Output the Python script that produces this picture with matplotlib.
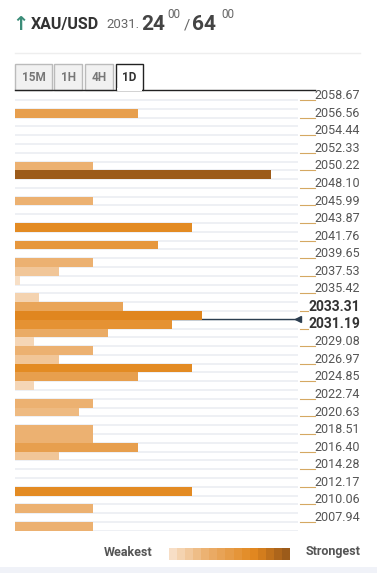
import numpy as np
import matplotlib.pyplot as plt
from matplotlib.colors import LinearSegmentedColormap
from matplotlib.patches import Rectangle

plt.rcParams['font.family'] = ['Roboto', 'DejaVu Sans']

# price labels on the right (one every two rows)
labels = [2058.67, 2056.56, 2054.44, 2052.33, 2050.22, 2048.10, 2045.99, 2043.87,
          2041.76, 2039.65, 2037.53, 2035.42, 2033.31, 2031.19, 2029.08, 2026.97,
          2024.85, 2022.74, 2020.63, 2018.51, 2016.40, 2014.28, 2012.17, 2010.06,
          2007.94]
n_rows = 50
current = 2031.24
bid, ask = "24", "64"

# confluence rows (row index from top) and strength
rows = [2, 8, 9, 12, 15, 17, 19, 20, 21, 23, 24, 25, 26, 27, 28, 29, 30, 31, 32,
        33, 35, 36, 38, 39, 40, 41, 45, 47, 49]
strength = [123, 78, 256, 78, 177, 143, 78, 44, 5, 24, 108, 187, 157, 93, 19, 78,
            44, 177, 123, 19, 78, 64, 78, 78, 123, 44, 177, 78, 78]

cmap = LinearSegmentedColormap.from_list(
    "conf", [(0, "#f8e2cc"), (0.3, "#ecb272"), (0.48, "#e79f4e"),
             (0.7, "#e38a22"), (0.75, "#df841e"), (1.0, "#9c5b1a")])

W, H = 377, 573
fig = plt.figure(figsize=(W / 100, H / 100), dpi=100)

# overlay axes in pixel coords for header / tabs / legend
ov = fig.add_axes([0, 0, 1, 1])
ov.set_xlim(0, W)
ov.set_ylim(H, 0)
ov.axis('off')

ov.text(12, 24, "\u2191", color="#3b8c78", fontsize=14, fontweight='bold',
        va='center', ha='left', family='DejaVu Sans')
ov.text(31, 24, "XAU/USD", color="#333333", fontsize=11.5, fontweight='bold',
        va='center', ha='left')
ov.text(106, 25, "%d." % int(current), color="#666666", fontsize=9.5,
        va='center', ha='left')
ov.text(141, 24.5, bid, color="#444444", fontsize=15, fontweight='bold',
        va='center', ha='left')
ov.text(167, 15, "00", color="#666666", fontsize=8.5, va='center', ha='left')
ov.text(184, 26, "/", color="#666666", fontsize=11, va='center', ha='left')
ov.text(192, 24.5, ask, color="#444444", fontsize=15, fontweight='bold',
        va='center', ha='left')
ov.text(221, 15, "00", color="#666666", fontsize=8.5, va='center', ha='left')
ov.plot([15, 360], [53, 53], color="#eeeeee", lw=1)

# tabs
tabs = ["15M", "1H", "4H", "1D"]
tab_x = [(15, 52), (54, 82), (85, 113), (116, 143)]
for t, (x0, x1) in zip(tabs, tab_x):
    active = t == "1D"
    ov.add_patch(Rectangle((x0, 64), x1 - x0, 26,
                           facecolor="white" if active else "#f1f1f1",
                           edgecolor="#222222" if active else "#bbbbbb",
                           lw=1))
    ov.text((x0 + x1) / 2, 77.5, t, color="#333333" if active else "#777777",
            fontsize=8.5, fontweight='bold', ha='center', va='center')
ov.plot([15, 116], [90, 90], color="#222222", lw=1)
ov.plot([143, 315], [90, 90], color="#222222", lw=1)
ov.add_patch(Rectangle((116.6, 88), 25.8, 3, facecolor="white", edgecolor="none"))

# legend
ov.text(152, 552, "Weakest", color="#555555", fontsize=9, fontweight='bold',
        ha='right', va='center')
ov.text(360, 552, "Strongest", color="#555555", fontsize=9, fontweight='bold',
        ha='right', va='center')
steps = np.linspace(0.02, 1, 15).reshape(1, -1)
ov.imshow(steps, cmap=cmap, vmin=0, vmax=1, extent=(169, 290, 560, 548),
          aspect='auto', interpolation='nearest')
ov.set_xlim(0, W)
ov.set_ylim(H, 0)
ov.add_patch(Rectangle((0, 567), W, 6, facecolor="#f0f2f8", edgecolor="none"))

# main chart
top_px, bot_px = 91.2, 530.7
ax = fig.add_axes([15 / W, 1 - bot_px / H, 283 / W, (bot_px - top_px) / H])
ax.set_xlim(0, 283)
ax.set_ylim(n_rows, 0)
ax.axis('off')

for y in range(1, n_rows + 1):
    ax.plot([0, 283], [y, y], color="#eef0f4", lw=1.4, zorder=0)

colors = [cmap(s / 256) for s in strength]
ax.barh(rows, strength, height=1, left=0, align='edge', color=colors,
        zorder=2)

rowstep = (labels[0] - labels[-1]) / (len(labels) - 1) / 2
cur_row = int(round((labels[0] - current) / rowstep))
ax.plot([0, 283], [cur_row - 0.05, cur_row - 0.05], color="#2c3e50", lw=1,
        zorder=1)
ax.plot([283], [cur_row - 0.05], marker='<', color="#2c3e50", ms=4.5,
        clip_on=False, zorder=3)

above = min(p for p in labels if p > current)
below = max(p for p in labels if p <= current)
for i, p in enumerate(labels):
    near = p in (above, below)
    y = 2 * i + 0.5
    ax.text(345, y, "%.2f" % p, ha='right', va='center',
            fontsize=10 if near else 9,
            fontweight='bold' if near else 'normal',
            color="#333333" if near else "#555555", clip_on=False)
    x1 = 293 if near else 300
    ax.plot([285, x1], [2 * i + 1, 2 * i + 1], color="#d5a862", lw=0.8,
            clip_on=False)

fig.savefig("out.png", dpi=100)
